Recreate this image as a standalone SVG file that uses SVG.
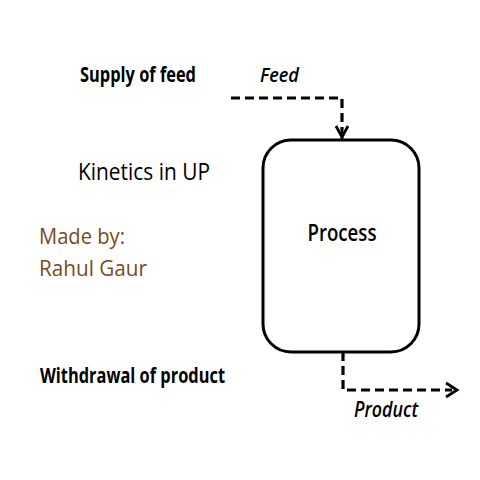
<svg xmlns="http://www.w3.org/2000/svg" width="480" height="480" viewBox="0 0 480 480">
<style>
.t{font-family:"Open Sans","Liberation Sans",sans-serif;fill:#000}
.b{font-weight:bold}
.s{font-weight:600}
.i{font-style:italic;font-weight:600}
.m{fill:#7a4a1c}
.d{fill:none;stroke:#000;stroke-width:3.2;stroke-dasharray:9,5}
.h{fill:none;stroke:#000;stroke-width:2.8}
</style>
<rect width="480" height="480" fill="#fff"/>
<g id="labels">
<text class="t b" x="80" y="82" font-size="21" textLength="116" lengthAdjust="spacingAndGlyphs">Supply of feed</text>
<text class="t" x="78" y="180" font-size="24" textLength="132" lengthAdjust="spacingAndGlyphs">Kinetics in UP</text>
<text class="t m" x="39" y="244" font-size="22" textLength="86" lengthAdjust="spacingAndGlyphs">Made by:</text>
<text class="t m" x="39" y="276" font-size="22" textLength="108" lengthAdjust="spacingAndGlyphs">Rahul Gaur</text>
<text class="t b" x="40" y="383" font-size="21" textLength="185" lengthAdjust="spacingAndGlyphs">Withdrawal of product</text>
</g>
<g id="process">
<rect x="263" y="140" width="156" height="212" rx="28" ry="28" fill="#fff" stroke="#000" stroke-width="3"/>
<text class="t s" x="342" y="241" font-size="24" text-anchor="middle" textLength="69" lengthAdjust="spacingAndGlyphs">Process</text>
</g>
<g id="connectors">
<g id="feed">
<path class="d" d="M231 98 H342 V130"/>
<path class="h" d="M336 126 L342 137 L348 126"/>
<line x1="342" y1="130" x2="342" y2="139" stroke="#000" stroke-width="2.8"/>
<text class="t i" x="260" y="82" font-size="19" textLength="39" lengthAdjust="spacingAndGlyphs">Feed</text>
</g>
<g id="product">
<path class="d" d="M343 352 V390 H452"/>
<path class="h" d="M446 383 L457 390 L446 397"/>
<text class="t i" x="354" y="417" font-size="21" textLength="64" lengthAdjust="spacingAndGlyphs">Product</text>
</g>
</g>
</svg>
